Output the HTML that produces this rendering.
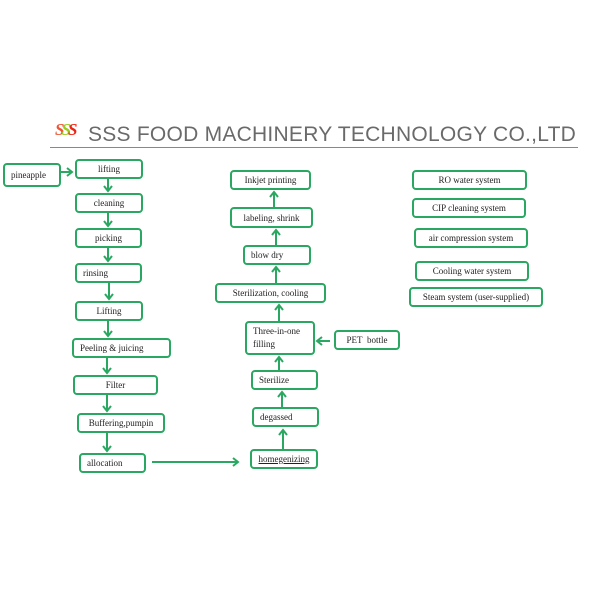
<!DOCTYPE html>
<html><head><meta charset="utf-8"><style>
body{margin:0;width:600px;height:600px;background:#fff;position:relative;overflow:hidden;font-family:"Liberation Serif","Noto Serif CJK SC",serif;}
.b{position:absolute;border:2px solid #2aa862;border-radius:4px;box-sizing:border-box;font-size:9px;color:#222;display:flex;align-items:center;justify-content:center;line-height:12px;}
.l{justify-content:flex-start;padding-left:6px}
svg{position:absolute;left:0;top:0}
</style></head><body>
<div style="position:absolute;left:55px;top:120px;font:italic bold 17px 'Liberation Serif',serif;letter-spacing:-3px"><span style="color:#e53">S</span><span style="color:#9c2">S</span><span style="color:#e21">S</span></div>
<div style="position:absolute;left:88px;top:123px;font:21px 'Liberation Sans',sans-serif;color:#6a6a6a;letter-spacing:0.25px">SSS FOOD MACHINERY TECHNOLOGY CO.,LTD</div>
<div style="position:absolute;left:50px;top:147px;width:528px;height:1px;background:#888"></div>

<div class="b l" style="left:3px;top:163px;width:58px;height:24px">pineapple</div>
<div class="b" style="left:75px;top:159px;width:68px;height:20px">lifting</div>
<div class="b" style="left:75px;top:193px;width:68px;height:20px">cleaning</div>
<div class="b" style="left:75px;top:228px;width:67px;height:20px">picking</div>
<div class="b l" style="left:75px;top:263px;width:67px;height:20px">rinsing</div>
<div class="b" style="left:75px;top:301px;width:68px;height:20px">Lifting</div>
<div class="b l" style="left:72px;top:338px;width:99px;height:20px">Peeling &amp; juicing</div>
<div class="b" style="left:73px;top:375px;width:85px;height:20px">Filter</div>
<div class="b" style="left:77px;top:413px;width:88px;height:20px">Buffering,pumpin</div>
<div class="b l" style="left:79px;top:453px;width:67px;height:20px">allocation</div>
<div class="b" style="left:250px;top:449px;width:68px;height:20px;text-decoration:underline">homegenizing</div>
<div class="b l" style="left:252px;top:407px;width:67px;height:20px">degassed</div>
<div class="b l" style="left:251px;top:370px;width:67px;height:20px">Sterilize</div>
<div class="b l" style="left:245px;top:321px;width:70px;height:34px;line-height:13px">Three-in-one<br>filling</div>
<div class="b" style="left:334px;top:330px;width:66px;height:20px">PET&nbsp; bottle</div>
<div class="b" style="left:215px;top:283px;width:111px;height:20px">Sterilization, cooling</div>
<div class="b l" style="left:243px;top:245px;width:68px;height:20px">blow dry</div>
<div class="b" style="left:230px;top:207px;width:83px;height:21px">labeling, shrink</div>
<div class="b" style="left:230px;top:170px;width:81px;height:20px">Inkjet printing</div>
<div class="b" style="left:412px;top:170px;width:115px;height:20px">RO water system</div>
<div class="b" style="left:412px;top:198px;width:114px;height:20px">CIP cleaning system</div>
<div class="b" style="left:414px;top:228px;width:114px;height:20px">air compression system</div>
<div class="b" style="left:415px;top:261px;width:114px;height:20px">Cooling water system</div>
<div class="b" style="left:409px;top:287px;width:134px;height:20px">Steam system (user-supplied)</div>

<svg width="600" height="600" fill="none" stroke="#2aa862" stroke-width="2">
<g>
<path d="M61 172H72M67 168l5 4-5 4"/>
<path d="M108 179V191M104 186l4 5 4-5"/>
<path d="M108 213V226M104 221l4 5 4-5"/>
<path d="M108 248V261M104 256l4 5 4-5"/>
<path d="M109 283V299M105 294l4 5 4-5"/>
<path d="M108 321V336M104 331l4 5 4-5"/>
<path d="M107 358V373M103 368l4 5 4-5"/>
<path d="M107 395V411M103 406l4 5 4-5"/>
<path d="M107 433V451M103 446l4 5 4-5"/>
<path d="M152 462H238M233 458l5 4-5 4"/>
<path d="M283 449V430M279 435l4-5 4 5"/>
<path d="M282 407V392M278 397l4-5 4 5"/>
<path d="M279 370V357M275 362l4-5 4 5"/>
<path d="M279 321V305M275 310l4-5 4 5"/>
<path d="M276 283V267M272 272l4-5 4 5"/>
<path d="M276 245V230M272 235l4-5 4 5"/>
<path d="M274 207V192M270 197l4-5 4 5"/>
<path d="M330 341H317M322 337l-5 4 5 4"/>
</g>
</svg>
</body></html>
